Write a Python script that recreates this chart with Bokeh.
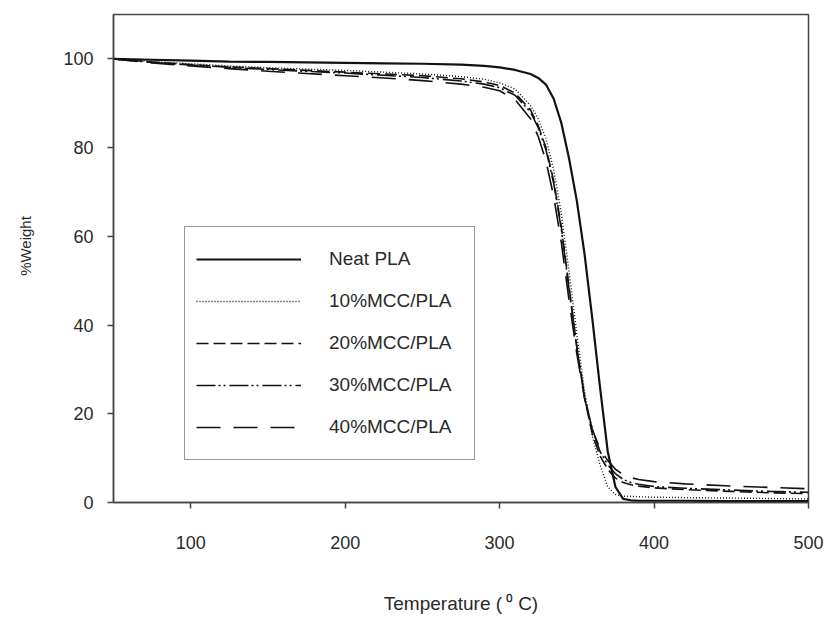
from bokeh.plotting import figure
from bokeh.models import Range1d, Legend, LegendItem
from bokeh.embed import file_html
from bokeh.resources import INLINE

# ---------------- data ----------------
temperature = [50, 75, 100, 125, 150, 175, 200, 225, 250, 275, 290, 300, 310, 320, 325,
               330, 335, 340, 345, 350, 355, 360, 365, 370, 375, 380, 385, 390, 400,
               420, 450, 475, 500]

neat_pla = [100, 99.8, 99.6, 99.4, 99.3, 99.2, 99.1, 99.0, 98.9, 98.7, 98.4, 98.1, 97.5, 96.6, 95.7,
            94.2, 91.0, 85.5, 77.5, 68.0, 56.0, 41.5, 26.0, 11.5, 3.5, 0.8, 0.5, 0.4, 0.4,
            0.4, 0.3, 0.3, 0.3]

mcc10_pla = [100, 99.4, 98.9, 98.4, 98.0, 97.7, 97.4, 97.0, 96.6, 96.0, 95.4, 94.6, 93.2, 89.5, 86.5,
             82.0, 75.0, 65.0, 52.0, 38.0, 25.0, 15.0, 8.5, 3.5, 1.8, 1.4, 1.4, 1.3, 1.2,
             1.1, 1.0, 0.9, 0.8]

mcc20_pla = [100, 99.3, 98.7, 98.2, 97.8, 97.4, 97.0, 96.6, 96.2, 95.5, 94.8, 94.0, 92.3, 88.5, 85.0,
             80.0, 72.5, 62.0, 48.5, 35.0, 23.5, 15.5, 10.5, 7.5, 5.5, 4.5, 4.0, 3.7, 3.3,
             2.9, 2.5, 2.2, 2.0]

mcc30_pla = [100, 99.2, 98.6, 98.1, 97.6, 97.2, 96.8, 96.3, 95.8, 95.0, 94.3, 93.5, 91.8, 88.0, 84.5,
             79.5, 72.0, 61.5, 48.0, 35.0, 24.0, 16.5, 11.5, 8.5, 6.5, 5.2, 4.5, 4.1, 3.6,
             3.2, 2.8, 2.5, 2.3]

mcc40_pla = [100, 99.1, 98.4, 97.8, 97.2, 96.7, 96.2, 95.7, 95.1, 94.3, 93.6, 92.8, 90.8, 86.5, 82.5,
             77.0, 69.0, 58.5, 45.5, 33.5, 23.5, 16.5, 12.0, 9.5, 7.5, 6.3, 5.6, 5.2, 4.7,
             4.2, 3.7, 3.4, 3.1]

series_names = ["Neat PLA", "10%MCC/PLA", "20%MCC/PLA", "30%MCC/PLA", "40%MCC/PLA"]
series_values = [neat_pla, mcc10_pla, mcc20_pla, mcc30_pla, mcc40_pla]

x_ticks = [100, 200, 300, 400, 500]
y_ticks = [0, 20, 40, 60, 80, 100]

x_title = "Temperature (\u2009\u2070 C)"
y_title = "%Weight"

# ---------------- styling ----------------
FONT = "Liberation Sans"
TEXT = "#2a2a2a"
AX = "#444444"
line_dashes = ["solid", "1 2", "12 5", "19 3 2 3 2 4", "24 13"]
line_widths = [2.2, 1.4, 1.6, 1.6, 1.6]

p = figure(width=827, height=621, output_backend="svg", toolbar_location=None,
           x_range=Range1d(50, 500), y_range=Range1d(0, 110),
           min_border_left=113, min_border_right=19, min_border_top=14, min_border_bottom=119)
p.background_fill_color = "white"
p.border_fill_color = "white"
p.outline_line_color = AX
p.outline_line_width = 1.5
p.outline_line_alpha = 1.0
p.xgrid.visible = False
p.ygrid.visible = False

for ax in (p.xaxis[0], p.yaxis[0]):
    ax.axis_line_color = AX
    ax.axis_line_width = 1.5
    ax.major_tick_line_color = AX
    ax.major_tick_line_width = 1.5
    ax.major_tick_in = 0
    ax.major_tick_out = 6
    ax.minor_tick_line_color = None
    ax.major_label_text_font = FONT
    ax.major_label_text_font_size = "18px"
    ax.major_label_text_color = TEXT
    ax.axis_label_text_font = FONT
    ax.axis_label_text_font_style = "normal"
    ax.axis_label_text_color = TEXT

p.xaxis.ticker = x_ticks
p.yaxis.ticker = y_ticks
p.xaxis.major_label_standoff = 27
p.yaxis.major_label_standoff = 14

p.yaxis.axis_label = "\u00a0" * 6 + y_title
p.yaxis.axis_label_text_font_size = "15px"
p.yaxis.axis_label_standoff = 26

p.xaxis.axis_label = x_title
p.xaxis.axis_label_text_font_size = "19px"
p.xaxis.axis_label_standoff = 41

items = []
for name, vals, dash, lw in zip(series_names, series_values, line_dashes, line_widths):
    r = p.line(temperature, vals, line_color="#111111", line_width=lw, line_dash=dash)
    items.append(LegendItem(label=name, renderers=[r]))

legend = Legend(items=items, location=(71, 42))
legend.border_line_color = "#333333"
legend.border_line_width = 1.5
legend.background_fill_color = "white"
legend.background_fill_alpha = 1.0
legend.padding = 11
legend.spacing = 0
legend.margin = 0
legend.glyph_width = 105
legend.glyph_height = 42
legend.label_height = 42
legend.label_width = 134
legend.label_standoff = 28
legend.label_text_font = FONT
legend.label_text_font_size = "19px"
legend.label_text_color = TEXT
p.add_layout(legend)

open("out.html", "w").write(file_html(p, INLINE))
